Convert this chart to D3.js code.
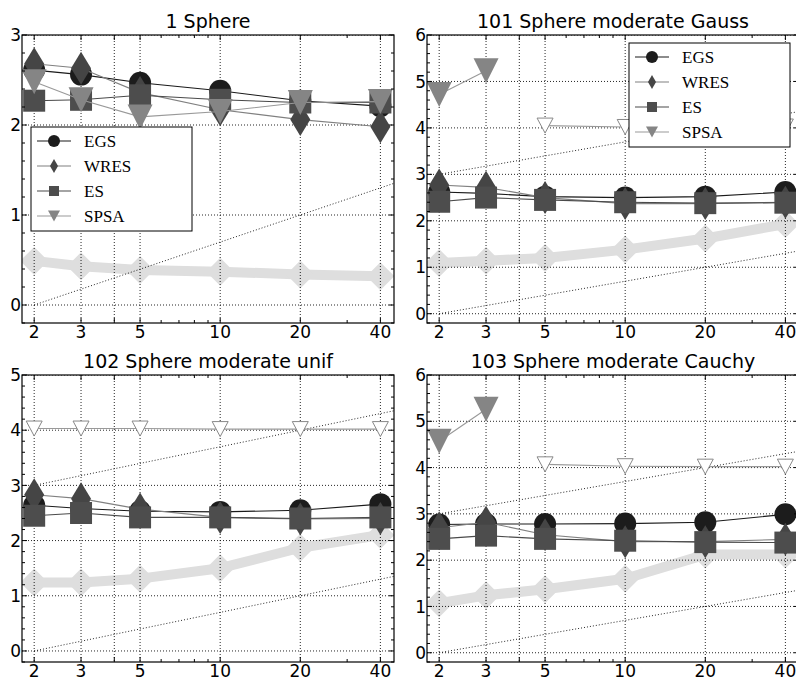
<!DOCTYPE html>
<html><head><meta charset="utf-8">
<script src="https://cdn.jsdelivr.net/npm/d3@7"></script>
<style>body{margin:0;background:#fff}svg{display:block}</style>
</head><body>
<script>
// ---------- data ----------
const dims = [2, 3, 5, 10, 20, 40];
const xTickLabels = [2, 3, 5, 10, 20, 40];
const xGridValues = [2, 3, 4, 5, 10, 20, 40];
const xMinorTicks = [6, 7, 8, 9, 30];
const algorithms = ["EGS", "WRES", "ES", "SPSA"];
const titles = ["1 Sphere", "101 Sphere moderate Gauss", "102 Sphere moderate unif", "103 Sphere moderate Cauchy"];
const yMaxes = [3, 6, 5, 6];

const egs1  = [2.61, 2.56, 2.47, 2.38, 2.27, 2.21];
const wres1 = [2.68, 2.63, 2.36, 2.17, 2.06, 1.98];
const es1   = [2.27, 2.28, 2.33, 2.28, 2.25, 2.25];
const spsa1 = [2.48, 2.28, 2.09, 2.15, 2.25, 2.26];
const spsaOpen1 = [0, 0, 0, 0, 0, 0];
const ref1  = [0.49, 0.43, 0.39, 0.37, 0.34, 0.32];

const egs2  = [2.62, 2.59, 2.52, 2.50, 2.52, 2.62];
const wres2 = [2.77, 2.72, 2.50, 2.37, 2.37, 2.40];
const es2   = [2.41, 2.50, 2.45, 2.40, 2.38, 2.39];
const spsa2 = [4.72, 5.23, 4.05, 4.02, 4.02, 4.03];
const spsaOpen2 = [0, 0, 1, 1, 1, 1];
const ref2  = [1.09, 1.14, 1.20, 1.38, 1.62, 1.93];

const egs3  = [2.64, 2.58, 2.53, 2.52, 2.55, 2.66];
const wres3 = [2.83, 2.76, 2.57, 2.42, 2.39, 2.40];
const es3   = [2.45, 2.50, 2.42, 2.42, 2.40, 2.42];
const spsa3 = [4.03, 4.03, 4.03, 4.02, 4.02, 4.02];
const spsaOpen3 = [1, 1, 1, 1, 1, 1];
const ref3  = [1.24, 1.24, 1.31, 1.50, 1.87, 2.10];

const egs4  = [2.77, 2.78, 2.78, 2.79, 2.82, 2.99];
const wres4 = [2.70, 2.82, 2.55, 2.40, 2.40, 2.45];
const es4   = [2.46, 2.53, 2.46, 2.42, 2.39, 2.38];
const spsa4 = [4.57, 5.26, 4.07, 4.03, 4.02, 4.02];
const spsaOpen4 = [0, 0, 1, 1, 1, 1];
const ref4  = [1.07, 1.24, 1.37, 1.60, 2.12, 2.12];

const diagOffsets = [0, 3];

// ---------- drawing ----------
const W = 796, H = 680;
const svg = d3.select("body").append("svg").attr("width", W).attr("height", H)
  .style("font-family", "'DejaVu Sans', sans-serif");

const panels = [
  {egs: egs1, wres: wres1, es: es1, spsa: spsa1, open: spsaOpen1, ref: ref1, legend: [31, 127]},
  {egs: egs2, wres: wres2, es: es2, spsa: spsa2, open: spsaOpen2, ref: ref2, legend: [629, 43]},
  {egs: egs3, wres: wres3, es: es3, spsa: spsa3, open: spsaOpen3, ref: ref3, legend: null},
  {egs: egs4, wres: wres4, es: es4, spsa: spsa4, open: spsaOpen4, ref: ref4, legend: null}
];
const boxes = [
  {l: 22, r: 394, t: 35, b: 323},
  {l: 427, r: 799, t: 35, b: 323},
  {l: 22, r: 394, t: 375, b: 662},
  {l: 427, r: 799, t: 375, b: 662}
];

const style = {
  EGS:  {fill: "#1c1c1c", line: "#1a1a1a"},
  WRES: {fill: "#454545", line: "#808080"},
  ES:   {fill: "#4d4d4d", line: "#4a4a4a"},
  SPSA: {fill: "#858585", line: "#999999"}
};

const shapes = {
  circle: (d) => { const r = d / 2; return `M${r},0A${r},${r} 0 1,1 ${-r},0A${r},${r} 0 1,1 ${r},0Z`; },
  diamond: (w, h) => `M0,${-h/2}L${w/2},0L0,${h/2}L${-w/2},0Z`,
  square: (s) => `M${-s/2},${-s/2}H${s/2}V${s/2}H${-s/2}Z`,
  triDown: (w, h) => `M${-w/2},${-h/2}L${w/2},${-h/2}L0,${h/2}Z`
};
const markerPath = {
  EGS: () => shapes.circle(22),
  WRES: () => shapes.diamond(20, 33),
  ES: () => shapes.square(22),
  SPSA: () => shapes.triDown(25, 25)
};
const legendMarker = {
  EGS: () => shapes.circle(12),
  WRES: () => shapes.diamond(8, 14),
  ES: () => shapes.square(10),
  SPSA: () => shapes.triDown(12, 11)
};
const dotted = (sel, op) => sel.attr("stroke", "#000").attr("stroke-width", 1)
  .attr("stroke-dasharray", "1,2").attr("opacity", op);

panels.forEach((p, i) => {
  const bx = boxes[i];
  const x = d3.scaleLog().domain([1.8, 45]).range([bx.l, bx.r]);
  const y = d3.scaleLinear().domain([-0.2, yMaxes[i]]).range([bx.b, bx.t]);
  const g = svg.append("g");
  const clipId = "clip" + i;
  svg.append("clipPath").attr("id", clipId).append("rect")
    .attr("x", bx.l).attr("y", bx.t).attr("width", bx.r - bx.l).attr("height", bx.b - bx.t);
  const plot = g.append("g").attr("clip-path", `url(#${clipId})`);

  const line = d3.line().x((d) => x(d[0])).y((d) => y(d[1]));

  // reference (thick light grey)
  const refPts = dims.map((d, k) => [d, p.ref[k]]);
  plot.append("path").attr("d", line(refPts)).attr("fill", "none")
    .attr("stroke", "#dedede").attr("stroke-width", 10).attr("stroke-linejoin", "round");
  plot.selectAll(null).data(refPts).enter().append("path")
    .attr("d", shapes.diamond(28, 28))
    .attr("transform", (d) => `translate(${x(d[0])},${y(d[1])})`)
    .attr("fill", "#dedede");

  // grid
  xGridValues.forEach((v) => {
    dotted(plot.append("line").attr("x1", x(v)).attr("x2", x(v)).attr("y1", bx.t).attr("y2", bx.b), 0.85);
  });
  d3.range(0, yMaxes[i] + 1).forEach((v) => {
    dotted(plot.append("line").attr("x1", bx.l).attr("x2", bx.r).attr("y1", y(v)).attr("y2", y(v)), 0.85);
  });
  // diagonal guide lines
  diagOffsets.forEach((c) => {
    const pts = [2, 45].map((d) => [d, c + Math.log10(d / 2)]);
    dotted(plot.append("path").attr("d", line(pts)).attr("fill", "none"), 0.85);
  });

  // series
  const seriesData = {EGS: p.egs, WRES: p.wres, ES: p.es, SPSA: p.spsa};
  algorithms.forEach((a) => {
    const vals = seriesData[a];
    const st = style[a];
    if (a !== "SPSA") {
      const pts = dims.map((d, k) => [d, vals[k]]);
      plot.append("path").attr("d", line(pts)).attr("fill", "none")
        .attr("stroke", st.line).attr("stroke-width", 1.1);
      plot.selectAll(null).data(pts).enter().append("path")
        .attr("d", markerPath[a]())
        .attr("transform", (d) => `translate(${x(d[0])},${y(d[1])})`)
        .attr("fill", st.fill);
    } else {
      const filled = dims.map((d, k) => [d, vals[k], p.open[k]]).filter((d) => !d[2]);
      const opened = dims.map((d, k) => [d, vals[k], p.open[k]]).filter((d) => d[2]);
      [filled, opened].forEach((grp) => {
        if (grp.length > 1) {
          plot.append("path").attr("d", line(grp)).attr("fill", "none")
            .attr("stroke", st.line).attr("stroke-width", 1.1);
        }
      });
      plot.selectAll(null).data(filled).enter().append("path")
        .attr("d", markerPath.SPSA())
        .attr("transform", (d) => `translate(${x(d[0])},${y(d[1])})`)
        .attr("fill", st.fill);
      plot.selectAll(null).data(opened).enter().append("path")
        .attr("d", shapes.triDown(16, 15))
        .attr("transform", (d) => `translate(${x(d[0])},${y(d[1])})`)
        .attr("fill", "#fff").attr("stroke", "#888").attr("stroke-width", 1);
    }
  });

  // frame
  g.append("rect").attr("x", bx.l).attr("y", bx.t).attr("width", bx.r - bx.l).attr("height", bx.b - bx.t)
    .attr("fill", "none").attr("stroke", "#000").attr("stroke-width", 1.2);

  // ticks (inward, all sides)
  const tk = g.append("g").attr("stroke", "#000").attr("stroke-width", 1);
  xGridValues.forEach((v) => {
    tk.append("line").attr("x1", x(v)).attr("x2", x(v)).attr("y1", bx.b).attr("y2", bx.b - 5);
    tk.append("line").attr("x1", x(v)).attr("x2", x(v)).attr("y1", bx.t).attr("y2", bx.t + 5);
  });
  xMinorTicks.forEach((v) => {
    tk.append("line").attr("x1", x(v)).attr("x2", x(v)).attr("y1", bx.b).attr("y2", bx.b - 3);
    tk.append("line").attr("x1", x(v)).attr("x2", x(v)).attr("y1", bx.t).attr("y2", bx.t + 3);
  });
  d3.range(0, yMaxes[i] + 1).forEach((v) => {
    tk.append("line").attr("x1", bx.l).attr("x2", bx.l + 5).attr("y1", y(v)).attr("y2", y(v));
    tk.append("line").attr("x1", bx.r).attr("x2", bx.r - 5).attr("y1", y(v)).attr("y2", y(v));
  });
  d3.range(-0.2, yMaxes[i] + 0.01, 0.2).forEach((v) => {
    if (Math.abs(v - Math.round(v)) < 1e-6) return;
    tk.append("line").attr("x1", bx.l).attr("x2", bx.l + 3).attr("y1", y(v)).attr("y2", y(v));
    tk.append("line").attr("x1", bx.r).attr("x2", bx.r - 3).attr("y1", y(v)).attr("y2", y(v));
  });

  // tick labels
  xTickLabels.forEach((v) => {
    g.append("text").attr("x", x(v)).attr("y", bx.b + 15).attr("text-anchor", "middle")
      .attr("font-size", 17).attr("fill", "#000").text(v);
  });
  d3.range(0, yMaxes[i] + 1).forEach((v) => {
    g.append("text").attr("x", bx.l - 1).attr("y", y(v)).attr("dy", "0.36em").attr("text-anchor", "end")
      .attr("font-size", 17).attr("fill", "#000").text(v);
  });
  // title
  g.append("text").attr("x", (bx.l + bx.r) / 2).attr("y", bx.t - 7).attr("text-anchor", "middle")
    .attr("font-size", 19).attr("fill", "#000").text(titles[i]);

  // legend
  if (p.legend) {
    const [lx, ly] = p.legend;
    const lg = g.append("g").attr("transform", `translate(${lx},${ly})`);
    lg.append("rect").attr("width", 161).attr("height", 104).attr("fill", "#fff")
      .attr("stroke", "#000").attr("stroke-width", 1);
    algorithms.forEach((a, k) => {
      const yy = 14 + k * 25;
      lg.append("line").attr("x1", 6).attr("x2", 40).attr("y1", yy).attr("y2", yy)
        .attr("stroke", style[a].line).attr("stroke-width", 1.2);
      lg.append("path").attr("d", legendMarker[a]()).attr("transform", `translate(23,${yy})`)
        .attr("fill", style[a].fill);
      lg.append("text").attr("x", 53).attr("y", yy).attr("dy", "0.35em")
        .attr("font-family", "'Liberation Serif', 'Times New Roman', serif")
        .attr("font-size", 17).attr("fill", "#000").text(a);
    });
  }
});
</script>
</body></html>
